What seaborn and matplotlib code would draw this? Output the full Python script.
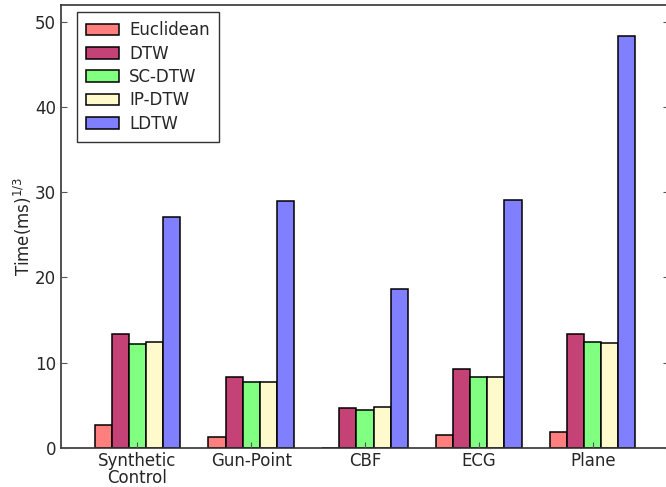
import pandas as pd
import seaborn as sns
import matplotlib.pyplot as plt

datasets = ["Synthetic\nControl", "Gun-Point", "CBF", "ECG", "Plane"]
methods = ["Euclidean", "DTW", "SC-DTW", "IP-DTW", "LDTW"]
euclidean = [2.7, 1.2, 0.0, 1.5, 1.8]
dtw = [13.4, 8.3, 4.7, 9.2, 13.3]
sc_dtw = [12.2, 7.7, 4.4, 8.25, 12.45]
ip_dtw = [12.4, 7.7, 4.8, 8.25, 12.25]
ldtw = [27.1, 29.0, 18.6, 29.1, 48.4]
colors = ["#ff7f7f", "#c44275", "#80ff80", "#fffacc", "#8080ff"]

df = pd.DataFrame({"Euclidean": euclidean, "DTW": dtw, "SC-DTW": sc_dtw,
                   "IP-DTW": ip_dtw, "LDTW": ldtw}, index=datasets)
df = df.reset_index(names="dataset").melt(id_vars="dataset", var_name="method", value_name="time")

sns.set_style("ticks")
plt.rcParams['font.family'] = ['DejaVu Sans']
fig = plt.figure(figsize=(6.66, 4.87), dpi=100)
ax = fig.add_axes([61 / 666, 0.0807, 608 / 666, 0.909])

sns.barplot(data=df, x="dataset", y="time", hue="method", hue_order=methods,
            palette=colors, saturation=1, width=0.75, edgecolor="black",
            linewidth=1.1, ax=ax)

ax.set_xlim(-0.67, 4.67)
ax.set_ylim(0, 52)
ax.set_yticks([0, 10, 20, 30, 40, 50])
ax.set_xlabel("")
ax.set_ylabel("Time(ms)$^{1/3}$", fontsize=12, labelpad=1)
ax.set_axisbelow(False)
ax.tick_params(direction="in", length=4, labelsize=12, right=True, color="#555555")
ax.tick_params(axis="x", pad=3)
for lbl in ax.get_xticklabels():
    lbl.set_linespacing(0.95)
for s in ax.spines.values():
    s.set_color("#333333")
    s.set_linewidth(1.2)

leg = ax.legend(loc="upper left", fontsize=12, frameon=True, fancybox=False,
                borderpad=0.55, labelspacing=0.32, handlelength=2.0,
                handletextpad=0.6, borderaxespad=0,
                bbox_to_anchor=(0.026, 0.984))
leg.get_frame().set_edgecolor("black")
leg.get_frame().set_linewidth(1.0)

plt.savefig("out.png", dpi=100)
